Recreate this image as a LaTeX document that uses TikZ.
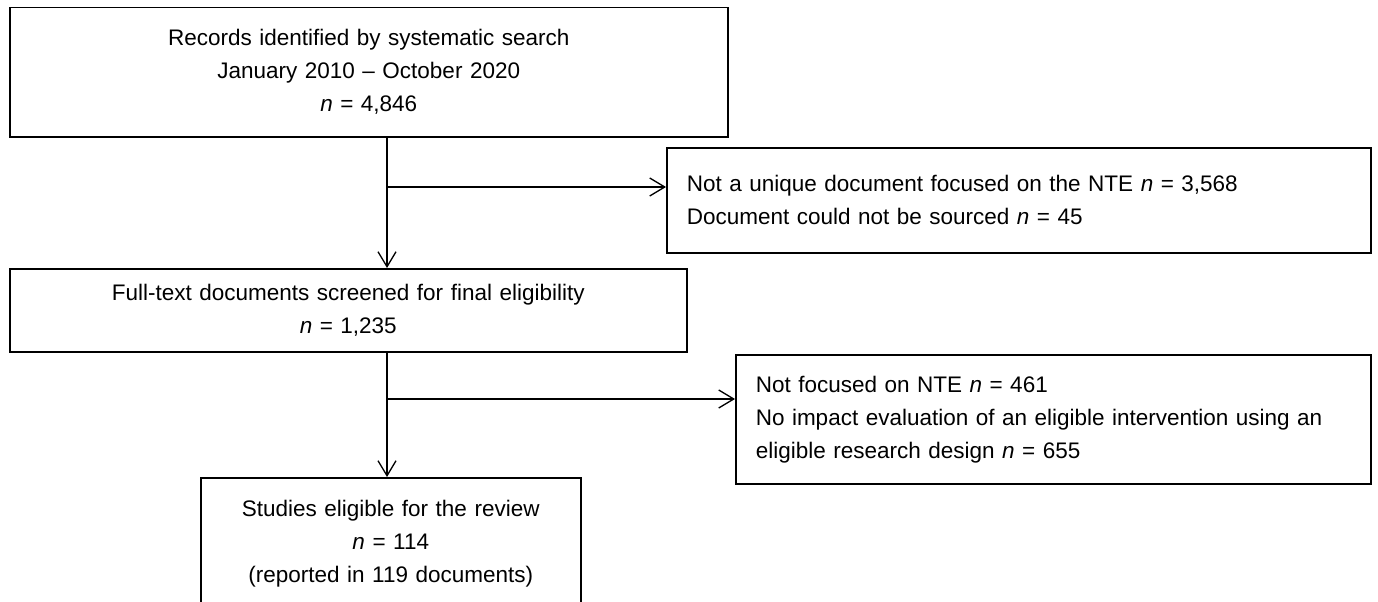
\documentclass[tikz,border=0pt]{standalone}
\usepackage{fontspec}
\setmainfont{Liberation Sans}
\usetikzlibrary{positioning, arrows.meta}
\newcommand{\nn}{\textit{n}}
\tikzset{
  stage/.style={draw, line width=1.5pt, align=center, anchor=north west,
    inner xsep=14pt, inner ysep=0pt, font=\fontsize{22.5}{33}\selectfont},
  dropped/.style={stage, align=left, inner xsep=20pt},
  flow/.style={-{Straight Barb[length=15pt,width=18pt]}, line width=1.3pt},
}

\begin{document}
\begin{tikzpicture}[x=1pt, y=-1pt]
    \useasboundingbox (0,0) rectangle (1378,602);
    % boxes of the main column
    \node[stage, text width=690pt, minimum height=129pt] (search) at (9,7)
      {Records identified by systematic search\\January 2010 -- October 2020\\\nn{} = 4,846};
    \node[stage, text width=649pt, minimum height=83pt] (screened) at (9,268)
      {Full-text documents screened for final eligibility\\\nn{} = 1,235};
    \node[stage, text width=352pt, minimum height=131pt] (eligible) at (200,477)
      {Studies eligible for the review\\\nn{} = 114\\(reported in 119 documents)};
    % boxes of the excluded records
    \node[dropped, text width=664pt, minimum height=105pt] (notunique) at (666,147)
      {Not a unique document focused on the NTE \nn{} = 3,568\\Document could not be sourced \nn{} = 45};
    \node[dropped, text width=595pt, minimum height=129pt] (notfocused) at (735,354)
      {Not focused on NTE \nn{} = 461\\No impact evaluation of an eligible intervention using an\\eligible research design \nn{} = 655};
    % connectors
    \coordinate (stem) at (387,0);
    \coordinate (fork1) at (387,187);
    \coordinate (fork2) at (387,399);
    \draw[flow] (search.south -| stem) -- (screened.north -| stem);
    \draw[flow] (fork1) -- (fork1 -| notunique.west);
    \draw[flow] (screened.south -| stem) -- (eligible.north -| stem);
    \draw[flow] (fork2) -- (fork2 -| notfocused.west);
\end{tikzpicture}
\end{document}
